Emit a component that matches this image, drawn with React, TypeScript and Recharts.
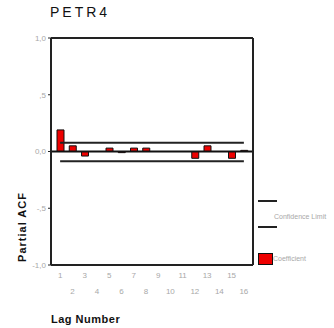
import React from 'react';
import { ComposedChart, Bar, Line, XAxis, YAxis, ReferenceLine } from 'recharts';

const lags = ['1', '2', '3', '4', '5', '6', '7', '8', '9', '10', '11', '12', '13', '14', '15', '16'];
const coefficients = [0.19, 0.05, -0.04, 0.0, 0.03, -0.01, 0.03, 0.03, 0.0, 0.0, 0.0, -0.06, 0.05, 0.0, -0.06, 0.01];
const upperLimit = [0.078, 0.078, 0.078, 0.078, 0.078, 0.078, 0.078, 0.078, 0.078, 0.078, 0.078, 0.078, 0.078, 0.078, 0.078, 0.078];
const lowerLimit = [-0.086, -0.086, -0.086, -0.086, -0.086, -0.086, -0.086, -0.086, -0.086, -0.086, -0.086, -0.086, -0.086, -0.086, -0.086, -0.086];
const yTicks = [-1, -0.5, 0, 0.5, 1];
const yTickLabels = ['-1,0', '-,5', '0,0', ',5', '1,0'];

const data = lags.map((lag, i) => ({
  lag,
  coef: coefficients[i],
  upper: upperLimit[i],
  lower: lowerLimit[i],
}));

const font = '"Liberation Sans", Arial, sans-serif';
const grey = '#a8a8a8';

// odd lags on the first row, even lags on the second
const LagTick = (props: any) => {
  const { x, y, payload, index } = props;
  const dy = index % 2 === 0 ? 5 : 21;
  return (
    <text x={x} y={y + dy} textAnchor="middle" fontSize={8} fill={grey} fontFamily={font}>
      {payload.value}
    </text>
  );
};

const App: React.FC = () => {
  return (
    <div style={{ position: 'absolute', left: 0, top: 0, width: 334, height: 328, background: '#fff' }}>
      <div
        style={{
          position: 'absolute', left: 50, top: 4, fontFamily: font, fontSize: 14,
          letterSpacing: 3, color: '#111',
        }}
      >
        PETR4
      </div>
      <ComposedChart
        width={334}
        height={328}
        data={data}
        margin={{ top: 37, right: 80, bottom: 0, left: 0 }}
      >
        <XAxis
          dataKey="lag"
          height={63}
          padding={{ left: 3, right: 3 }}
          axisLine={{ stroke: '#222', strokeWidth: 2 }}
          tickLine={false}
          tick={<LagTick />}
          interval={0}
        />
        <XAxis xAxisId="top" dataKey="lag" orientation="top" height={1} tick={false} tickLine={false}
          axisLine={{ stroke: '#222', strokeWidth: 2 }} />
        <YAxis
          domain={[-1, 1]}
          ticks={yTicks}
          width={51}
          tickSize={3}
          tickMargin={2}
          axisLine={{ stroke: '#222', strokeWidth: 2 }}
          tickLine={{ stroke: '#222' }}
          tick={{ fontSize: 8, fill: grey, fontFamily: font }}
          tickFormatter={(v: number) => yTickLabels[yTicks.indexOf(v)]}
        />
        <YAxis yAxisId="right" orientation="right" domain={[-1, 1]} width={1} tick={false} tickLine={false}
          axisLine={{ stroke: '#222', strokeWidth: 2 }} />
        <ReferenceLine y={0} stroke="#111" strokeWidth={2} />
        <Bar dataKey="coef" fill="#ee0000" stroke="#111" strokeWidth={1} barSize={7} isAnimationActive={false} />
        <Line dataKey="upper" stroke="#222" strokeWidth={2} dot={false} isAnimationActive={false} />
        <Line dataKey="lower" stroke="#222" strokeWidth={2} dot={false} isAnimationActive={false} />
      </ComposedChart>
      <div style={{ position: 'absolute', left: 258, top: 200, width: 19, height: 2, background: '#222' }} />
      <div style={{ position: 'absolute', left: 258, top: 226, width: 19, height: 2, background: '#222' }} />
      <div style={{ position: 'absolute', left: 274, top: 213, fontFamily: font, fontSize: 7, color: grey, whiteSpace: 'nowrap' }}>
        Confidence Limit
      </div>
      <div style={{ position: 'absolute', left: 258, top: 253, width: 13, height: 10, background: '#ee0000', border: '1px solid #111' }} />
      <div style={{ position: 'absolute', left: 273, top: 255, fontFamily: font, fontSize: 7, color: grey, whiteSpace: 'nowrap' }}>
        Coefficient
      </div>
      <div
        style={{
          position: 'absolute', left: 22, top: 227, transform: 'translate(-50%, -50%) rotate(-90deg)',
          fontFamily: font, fontSize: 11, fontWeight: 'bold', letterSpacing: 1, color: '#111', whiteSpace: 'nowrap',
        }}
      >
        Partial ACF
      </div>
      <div
        style={{
          position: 'absolute', left: 51, top: 313, fontFamily: font, fontSize: 11, fontWeight: 'bold',
          color: '#111', whiteSpace: 'nowrap', letterSpacing: 0.5,
        }}
      >
        Lag Number
      </div>
    </div>
  );
};

export default App;
